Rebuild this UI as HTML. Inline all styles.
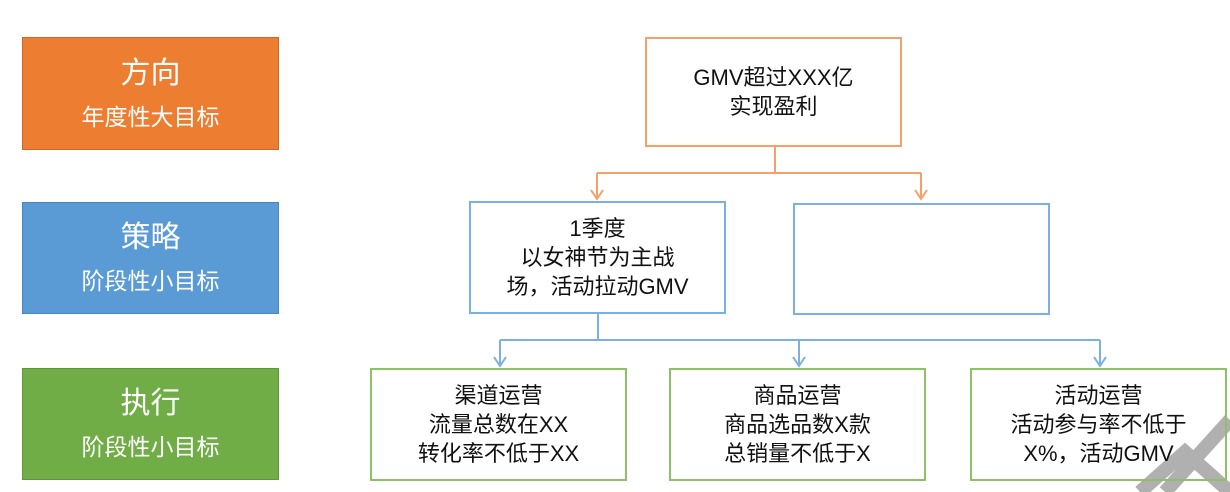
<!DOCTYPE html>
<html><head><meta charset="utf-8"><style>
body{margin:0;width:1230px;height:492px;background:#fff;overflow:hidden;position:relative;font-family:"Liberation Sans","Noto Sans CJK SC",sans-serif;}
.b{position:absolute;box-sizing:border-box;display:flex;flex-direction:column;align-items:center;justify-content:center;text-align:center;}
.l{color:#fff;}
.l .t{font-size:30px;line-height:40px;}
.l .s{font-size:23px;line-height:34px;margin-top:6px;}
.n{background:#fff;font-size:22px;line-height:29px;color:#111;}
</style></head><body>
<div class="b l" style="left:22px;top:37px;width:257px;height:113px;background:#ed7d31;border:1px solid #c8692a"><div class="t">方向</div><div class="s">年度性大目标</div></div>
<div class="b l" style="left:22px;top:202px;width:257px;height:112px;background:#5b9bd5;border:1px solid #4a85bc"><div class="t">策略</div><div class="s">阶段性小目标</div></div>
<div class="b l" style="left:22px;top:368px;width:257px;height:112px;background:#70ad47;border:1px solid #5e963a"><div class="t">执行</div><div class="s">阶段性小目标</div></div>

<svg style="position:absolute;left:0;top:0" width="1230" height="492">
<g stroke="#f4a06a" stroke-width="2" fill="none">
<path d="M775 147V173M597 173H921M597 173V199M921 173V199"/>
<path d="M591 190L597 199L603 190M915 190L921 199L927 190"/>
</g>
<g stroke="#7cb0e0" stroke-width="2" fill="none">
<path d="M598 314V340M500 340H1100M500 340V366M799 340V366M1100 340V366"/>
<path d="M494 357L500 366L506 357M793 357L799 366L805 357M1094 357L1100 366L1106 357"/>
</g>
<g stroke="#b0b0b0" stroke-width="14" fill="none">
<path d="M1165 492L1230 420"/>
<path d="M1140 492L1185 452L1230 492"/>
</g>
</svg>

<div class="b n" style="left:645px;top:37px;width:257px;height:110px;border:2px solid #f4a06a">GMV超过XXX亿<br>实现盈利</div>
<div class="b n" style="left:469px;top:201px;width:257px;height:113px;border:2px solid #7cb0e0">1季度<br>以女神节为主战<br>场，活动拉动GMV</div>
<div class="b n" style="left:793px;top:203px;width:257px;height:112px;border:2px solid #7cb0e0"></div>
<div class="b n" style="left:370px;top:368px;width:257px;height:113px;border:2px solid #8cc168">渠道运营<br>流量总数在XX<br>转化率不低于XX</div>
<div class="b n" style="left:669px;top:368px;width:257px;height:113px;border:2px solid #8cc168">商品运营<br>商品选品数X款<br>总销量不低于X</div>
<div class="b n" style="left:970px;top:368px;width:257px;height:113px;border:2px solid #8cc168;background:transparent">活动运营<br>活动参与率不低于<br>X%，活动GMV</div>
</body></html>
